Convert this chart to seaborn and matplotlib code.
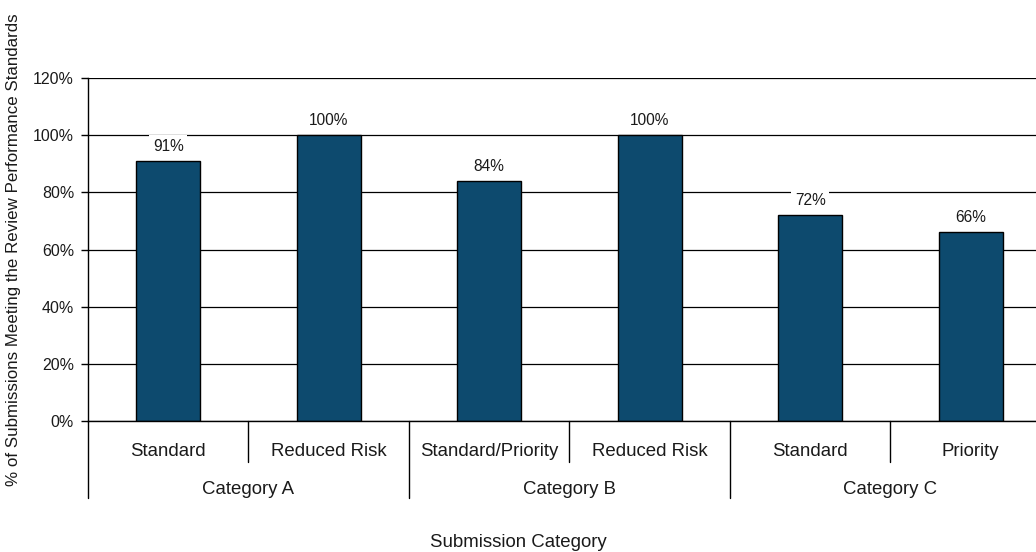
import matplotlib
matplotlib.use("Agg")
import matplotlib.pyplot as plt
import matplotlib.transforms as mtransforms
from matplotlib.ticker import FuncFormatter, MultipleLocator
import seaborn as sns
import pandas as pd

# Chart data
groups = ["Category A", "Category A", "Category B", "Category B", "Category C", "Category C"]
subcategories = ["Standard", "Reduced Risk", "Standard/Priority", "Reduced Risk", "Standard", "Priority"]
pct_meeting = [91, 100, 84, 100, 72, 66]
group_names = ["Category A", "Category B", "Category C"]

sns.set_style("white")
plt.rcParams["font.family"] = ["Liberation Sans", "DejaVu Sans"]

TEXT = "#1a1a1a"
CAT_FS = 13.4

df = pd.DataFrame({
    "slot": [f"{g}|{s}" for g, s in zip(groups, subcategories)],
    "group": groups,
    "sub": subcategories,
    "pct": pct_meeting,
})

fig = plt.figure(figsize=(10.36, 5.52), dpi=100)
ax = fig.add_axes([0.0849, 0.2373, 0.9295, 0.6214])

sns.barplot(data=df, x="slot", y="pct", order=df["slot"].tolist(),
            color="#0D4A6E", saturation=1, width=0.4,
            edgecolor="black", linewidth=1.0, ax=ax)

ax.set_xlim(-0.5, len(df) - 0.5)
ax.set_ylim(0, 120)
ax.yaxis.set_major_locator(MultipleLocator(20))
ax.yaxis.set_major_formatter(FuncFormatter(lambda v, _: f"{v:.0f}%"))
ax.set_axisbelow(True)
ax.yaxis.grid(True, color="black", linewidth=0.9)
ax.xaxis.grid(False)

for side in ("top", "right"):
    ax.spines[side].set_visible(False)
ax.spines["left"].set_color("black")
ax.spines["bottom"].set_color("black")
ax.spines["left"].set_linewidth(1.0)
ax.spines["bottom"].set_linewidth(1.0)

ax.tick_params(axis="y", which="major", left=True, length=5, width=1,
               color="black", pad=5, labelsize=11.5, labelcolor=TEXT)
ax.tick_params(axis="x", bottom=False, labelbottom=False)
ax.set_xlabel("")
ax.set_ylabel("% of Submissions Meeting the Review Performance Standards",
              fontsize=12.2, color=TEXT)
ax.yaxis.set_label_coords((21 - 88) / 963, 0.5)

# Value labels with white backing that interrupts the gridlines
for container in ax.containers:
    labels = ax.bar_label(container, labels=[f"{v}%" for v in pct_meeting],
                          padding=5, fontsize=11.2, color=TEXT)
    for t in labels:
        t.set_bbox(dict(facecolor="white", edgecolor="none", boxstyle="square,pad=0.25"))

# Two-level category axis below the plot
trans = mtransforms.blended_transform_factory(ax.transData, ax.transAxes)
for i, s in enumerate(subcategories):
    ax.text(i, -0.09, s, transform=trans, ha="center", va="center",
            fontsize=CAT_FS, color=TEXT, clip_on=False)
for k, g in enumerate(group_names):
    ax.text(2 * k + 0.5, -0.2, g, transform=trans, ha="center", va="center",
            fontsize=CAT_FS, color=TEXT, clip_on=False)

for x in [0.5, 2.5, 4.5]:
    ax.plot([x, x], [0, -0.12], transform=trans, color="black", lw=1.0, clip_on=False)
for x in [-0.5, 1.5, 3.5, 5.5]:
    ax.plot([x, x], [0, -0.225], transform=trans, color="black", lw=1.0, clip_on=False)

fig.text(0.5, 0.017, "Submission Category", ha="center", va="center",
         fontsize=CAT_FS, color=TEXT)

fig.savefig("out.png", dpi=100, facecolor="white")
